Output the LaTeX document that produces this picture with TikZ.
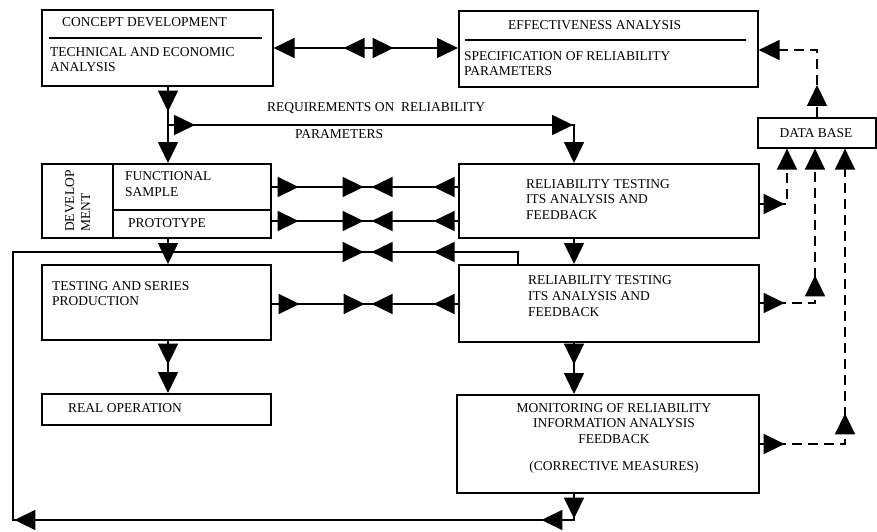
\documentclass[tikz,border=0pt]{standalone}
\usepackage{fontspec}
\setmainfont{Liberation Serif}
\usetikzlibrary{arrows.meta,decorations.markings}
\tikzset{
  Tri/.tip={Triangle[length=21pt,width=20pt]},
  conn/.style={line width=1.6pt},
  dsh/.style={line width=1.6pt, dash pattern=on 10pt off 6pt},
  marks/.style={postaction={decorate,decoration={markings,#1}}},
  box/.style={draw, line width=1.6pt, anchor=north west, inner sep=0pt},
  txt/.style={anchor=base west, inner sep=0pt, font=\fontsize{13.5}{15.5}\selectfont},
  ctxt/.style={anchor=base, inner sep=0pt, font=\fontsize{13.5}{15.5}\selectfont},
}
\begin{document}
\begin{tikzpicture}[x=1pt,y=-1pt]
\useasboundingbox (0,0) rectangle (877,532);
% boxes
\node[box, minimum width=231pt, minimum height=76pt] (b1) at (41,9) {};
\node[box, minimum width=299pt, minimum height=76pt] (b2) at (458,10) {};
\node[box, minimum width=229pt, minimum height=74pt] (dev) at (41,163) {};
\node[box, minimum width=300pt, minimum height=74pt] (rt1) at (458,163) {};
\node[box, minimum width=229pt, minimum height=75pt] (test) at (41,264) {};
\node[box, minimum width=300pt, minimum height=77pt] (rt2) at (458,264) {};
\node[box, minimum width=229pt, minimum height=31pt] (real) at (41,393) {};
\node[box, minimum width=302pt, minimum height=98pt] (mon) at (456,394) {};
\node[box, minimum width=118pt, minimum height=30pt] (db) at (757,117) {};
% inner rules
\draw[conn] (49,38) -- (262,38);
\draw[conn] (465,40) -- (746,40);
\draw[conn] (113,163) -- (113,237);
\draw[conn] (113,210) -- (270,210);
% texts
\node[txt] (t1a) at (62,27) {CONCEPT DEVELOPMENT};
\node[txt] (t1b) at (50,57) {TECHNICAL AND ECONOMIC};
\node[txt] (t1c) at (50,72) {ANALYSIS};
\node[txt] (t2a) at (508,30) {EFFECTIVENESS ANALYSIS};
\node[txt] (t2b) at (464,61) {SPECIFICATION OF RELIABILITY};
\node[txt] (t2c) at (464,76) {PARAMETERS};
\node[txt] (rq1) at (267,111) {REQUIREMENTS ON\ \ RELIABILITY};
\node[txt] (rq2) at (295,139) {PARAMETERS};
\node[txt] (fs1) at (125,180.5) {FUNCTIONAL};
\node[txt] (fs2) at (125,196) {SAMPLE};
\node[txt] (pr) at (128,227) {PROTOTYPE};
\node[txt, rotate=90] (dv1) at (74,232) {DEVELOP};
\node[txt, rotate=90] (dv2) at (90,232) {MENT};
\node[txt] (ts1) at (52,290) {TESTING AND SERIES};
\node[txt] (ts2) at (52,305) {PRODUCTION};
\node[txt] (ra1) at (526,188) {RELIABILITY TESTING};
\node[txt] (ra2) at (526,203) {ITS ANALYSIS AND};
\node[txt] (ra3) at (526,219) {FEEDBACK};
\node[txt] (rb1) at (528,284) {RELIABILITY TESTING};
\node[txt] (rb2) at (528,300) {ITS ANALYSIS AND};
\node[txt] (rb3) at (528,316) {FEEDBACK};
\node[txt] (ro) at (68,412) {REAL OPERATION};
\node[ctxt] (m1) at (614,412) {MONITORING OF RELIABILITY};
\node[ctxt] (m2) at (614,427) {INFORMATION ANALYSIS};
\node[ctxt] (m3) at (614,443) {FEEDBACK};
\node[ctxt] (m4) at (614,470) {(CORRECTIVE MEASURES)};
\node[ctxt] (dbt) at (816,137) {DATA BASE};
% helper coordinates
\coordinate (xA) at (168,0);
\coordinate (xB) at (574,0);
\coordinate (xL) at (13,0);
\coordinate (xR) at (518,0);
\coordinate (xD1) at (787,0);
\coordinate (xD2) at (815,0);
\coordinate (xD3) at (845,0);
\coordinate (xD4) at (817,0);
\coordinate (req) at (168,125);
\coordinate (y48) at (0,48);
\coordinate (y187) at (0,187);
\coordinate (y221) at (0,221);
\coordinate (y252) at (0,252);
\coordinate (y304) at (0,304);
\coordinate (y520) at (0,520);
\coordinate (y204) at (0,204);
\coordinate (y303) at (0,303);
\coordinate (y444) at (0,444);
\coordinate (y50) at (0,50);
% solid connectors
\draw[conn,-{Tri},marks={mark=at position 25pt with {\arrow{Tri}}}] (b1.south -| xA) -- (dev.north -| xA);
\draw[conn,-{Tri},marks={mark=at position 27pt with {\arrow{Tri}},mark=at position 405pt with {\arrow{Tri}}}] (req) -- (req -| xB) -- (rt1.north -| xB);
\draw[conn,{Tri}-{Tri},marks={mark=at position 70pt with {\arrowreversed{Tri}},mark=at position 120pt with {\arrow{Tri}}}] (b1.east |- y48) -- (b2.west |- y48);
\draw[conn,marks={mark=at position 27pt with {\arrow{Tri}},mark=at position 92pt with {\arrow{Tri}},mark=at position 100pt with {\arrowreversed{Tri}},mark=at position 162pt with {\arrowreversed{Tri}}}] (dev.east |- y187) -- (rt1.west |- y187);
\draw[conn,marks={mark=at position 27pt with {\arrow{Tri}},mark=at position 92pt with {\arrow{Tri}},mark=at position 100pt with {\arrowreversed{Tri}},mark=at position 162pt with {\arrowreversed{Tri}}}] (dev.east |- y221) -- (rt1.west |- y221);
\draw[conn,marks={mark=at position 28pt with {\arrow{Tri}},mark=at position 93pt with {\arrow{Tri}},mark=at position 100pt with {\arrowreversed{Tri}},mark=at position 162pt with {\arrowreversed{Tri}}}] (test.east |- y304) -- (rt2.west |- y304);
\draw[conn,marks={mark=at position 25pt with {\arrow{Tri}},mark=at position 59pt with {\arrow{Tri}},mark=at position 586pt with {\arrow{Tri}},mark=at position 1206pt with {\arrow{Tri}},mark=at position 1214pt with {\arrowreversed{Tri}},mark=at position 1276pt with {\arrowreversed{Tri}}}] (mon.south -| xB) -- (xB |- y520) -- (xL |- y520) -- (xL |- y252) -- (xR |- y252) -- (rt2.north -| xR);
\draw[conn,-{Tri}] (dev.south -| xA) -- (test.north -| xA);
\draw[conn,-{Tri},marks={mark=at position 24pt with {\arrow{Tri}}}] (test.south -| xA) -- (real.north -| xA);
\draw[conn,-{Tri}] (rt1.south -| xB) -- (rt2.north -| xB);
\draw[conn,-{Tri},marks={mark=at position 22pt with {\arrow{Tri}}}] (rt2.south -| xB) -- (mon.north -| xB);
% dashed connectors
\draw[dsh,-{Tri},marks={mark=at position 25pt with {\arrow{Tri}}}] (rt1.east |- y204) -- (xD1 |- y204) -- (db.south -| xD1);
\draw[dsh,-{Tri},marks={mark=at position 25pt with {\arrow{Tri}},mark=at position 83pt with {\arrow{Tri}}}] (rt2.east |- y303) -- (xD2 |- y303) -- (db.south -| xD2);
\draw[dsh,-{Tri},marks={mark=at position 25pt with {\arrow{Tri}},mark=at position 116pt with {\arrow{Tri}}}] (mon.east |- y444) -- (xD3 |- y444) -- (db.south -| xD3);
\draw[dsh,-{Tri},marks={mark=at position 32pt with {\arrow{Tri}}}] (db.north -| xD4) -- (xD4 |- y50) -- (b2.east |- y50);
\end{tikzpicture}
\end{document}
